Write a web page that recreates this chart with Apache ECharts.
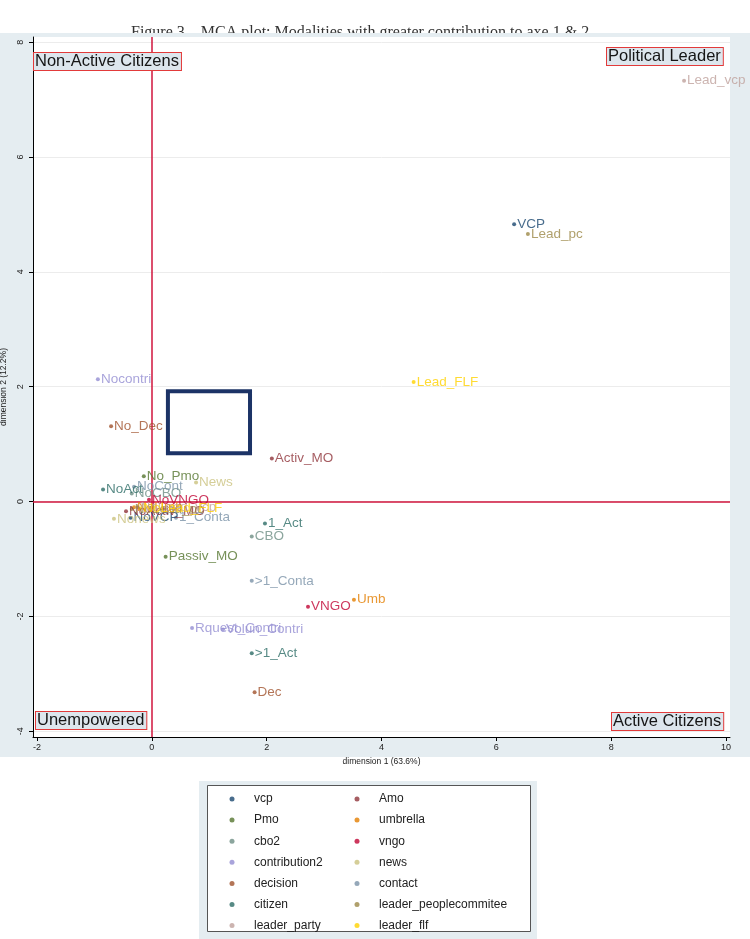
<!DOCTYPE html>
<html><head><meta charset="utf-8">
<script src="https://cdn.jsdelivr.net/npm/echarts@6/dist/echarts.min.js"></script>
<style>html,body{margin:0;padding:0;background:#fff}#c{width:750px;height:939px}</style>
</head><body><div id="c"></div><script>
const groups = ['vcp','Amo','Pmo','umbrella','cbo2','vngo','contribution2','news','decision','contact','citizen','leader_peoplecommitee','leader_party','leader_flf'];
const legendCol1 = ['vcp','Pmo','cbo2','contribution2','decision','citizen','leader_party'];
const legendCol2 = ['Amo','umbrella','vngo','news','contact','leader_peoplecommitee','leader_flf'];
const pointLabels = ['Lead_vcp','VCP','Lead_pc','Lead_FLF','Nocontri','No_Dec','Activ_MO','No_Pmo','NoAct','NoCont','NoCBO','NoVNGO','NoActiv_MO','NoUmb','NoLead_FLF','NoLead_pc','NoLead_vcp','Nonews','NoVCP','1_Conta','News','1_Act','CBO','Passiv_MO','>1_Conta','Umb','VNGO','Rquest_Contri','Volun_Contri','>1_Act','Dec'];
const pointGroups = ['leader_party','vcp','leader_peoplecommitee','leader_flf','contribution2','decision','Amo','Pmo','citizen','contact','cbo2','vngo','Amo','umbrella','leader_flf','leader_peoplecommitee','leader_party','news','vcp','contact','news','citizen','cbo2','Pmo','contact','umbrella','vngo','contribution2','contribution2','citizen','decision'];
const dim1 = [9.27,6.31,6.55,4.56,-0.94,-0.71,2.09,-0.14,-0.85,-0.31,-0.35,-0.05,-0.45,-0.31,-0.2,-0.35,-0.25,-0.66,-0.37,0.42,0.77,1.97,1.74,0.24,1.74,3.52,2.72,0.70,1.24,1.74,1.79];
const dim2 = [7.33,4.83,4.66,2.08,2.13,1.31,0.75,0.44,0.21,0.26,0.14,0.03,-0.17,-0.10,-0.12,-0.13,-0.10,-0.30,-0.28,-0.28,0.33,-0.38,-0.61,-0.96,-1.38,-1.71,-1.83,-2.20,-2.23,-2.64,-3.32];
const xTicks = [-2,0,2,4,6,8,10];
const yTicks = [-4,-2,0,2,4,6,8];
const highlightBox = [[0.28,1.92],[1.71,0.84]];
const quadrantLabels = ['Non-Active Citizens','Political Leader','Unempowered','Active Citizens'];
const titleText = 'Figure 3 \u2013 MCA plot: Modalities with greater contribution to axe 1 & 2';
const xName = 'dimension 1 (63.6%)';
const yName = 'dimension 2 (12.2%)';

const palette = ['#1a476f','#90353b','#55752f','#e37e00','#6e8e84','#c10534','#938dd2','#cac27e','#a0522d','#7b92a8','#2d6d66','#9c8847','#bfa19c','#ffd200'];
const panel = '#e5edf1';
const refColor = '#d0143c';
const font = 'Liberation Sans, Arial, sans-serif';

const chart = echarts.init(document.getElementById('c'));
const series = groups.map((g, gi) => {
  const data = [];
  pointLabels.forEach((l, i) => { if (pointGroups[i] === g) data.push([dim1[i], dim2[i], l]); });
  return {
    name: g, type: 'scatter', data, symbol: 'circle', symbolSize: 4,
    itemStyle: {color: palette[gi]},
    label: {show: true, position: 'right', distance: 1, formatter: p => p.value[2],
      color: palette[gi], fontFamily: font, fontSize: 13.5},
    labelLayout: {hideOverlap: false},
    z: 20
  };
});
series.push({
  type: 'scatter', data: [], silent: true, color: refColor, z: 10,
  markLine: {silent: true, symbol: 'none', label: {show: false}, animation: false,
    lineStyle: {color: refColor, width: 1.5, type: 'solid', opacity: 1},
    emphasis: {disabled: true},
    data: [
      [{xAxis: 0, yAxis: 'min'}, {xAxis: 0, yAxis: 'max'}],
      [{xAxis: 'min', yAxis: 0}, {xAxis: 'max', yAxis: 0}]
    ]}
});
series.push({
  type: 'scatter', data: [], silent: true, z: 10,
  markArea: {silent: true, itemStyle: {color: 'rgba(0,0,0,0)', borderColor: '#1c3366', borderWidth: 4},
    data: [[{coord: highlightBox[0]}, {coord: highlightBox[1]}]]}
});

const qStyle = (txt, x, y) => ({
  type: 'text', left: x, top: y, z: 50,
  style: {text: txt, font: '16.5px ' + font, fill: '#151515', backgroundColor: '#dde6ed',
    borderColor: '#e23a3a', borderWidth: 1, padding: [0, 2, 0, 1]}
});

const legendBase = {orient: 'vertical', icon: 'circle', itemWidth: 5, itemHeight: 5, itemGap: 7.1, height: 200, width: 170,
  textStyle: {fontFamily: font, fontSize: 12, color: '#222', lineHeight: 14, padding: [0, 0, 0, 14.5]}};

chart.setOption({
  animation: false,
  backgroundColor: '#fff',
  grid: {left: 33, right: 20, top: 37, bottom: 202, show: true, backgroundColor: '#fff', borderWidth: 0, borderColor: 'rgba(0,0,0,0)',
    containLabel: false, outerBoundsMode: 'none'},
  xAxis: {type: 'value', min: -2.07, max: 10.07, name: xName, nameLocation: 'middle', nameGap: 12,
    nameTextStyle: {fontFamily: font, fontSize: 8.5, color: '#222'},
    axisLine: {show: true, onZero: false, lineStyle: {color: '#000'}},
    axisTick: {show: true, length: 4, lineStyle: {color: '#000'}, customValues: xTicks},
    axisLabel: {fontFamily: font, fontSize: 9, color: '#222', margin: 6, customValues: xTicks},
    splitLine: {show: false}},
  yAxis: {type: 'value', min: -4.1, max: 8.09, name: yName, nameLocation: 'middle', nameGap: 19,
    nameTextStyle: {fontFamily: font, fontSize: 8.5, color: '#222'},
    axisLine: {show: true, onZero: false, lineStyle: {color: '#000'}},
    axisTick: {show: true, length: 4, lineStyle: {color: '#000'}, customValues: yTicks},
    axisLabel: {fontFamily: font, fontSize: 9, color: '#222', rotate: 90, margin: 8, customValues: yTicks},
    splitLine: {show: true, lineStyle: {color: '#ececec', width: 1}}},
  legend: [
    Object.assign({left: 224.5, top: 787, data: legendCol1}, legendBase),
    Object.assign({left: 349.5, top: 787, data: legendCol2}, legendBase)
  ],
  graphic: [
    {type: 'text', left: 131, top: 25, z: -101, silent: true,
      style: {text: titleText, font: '16px Liberation Serif, Times New Roman, serif', fill: '#333'}},
    {type: 'rect', left: 0, top: 33, z: -100, silent: true, shape: {width: 750, height: 724}, style: {fill: panel}},
    {type: 'rect', left: 199, top: 781, z: -100, silent: true, shape: {width: 338, height: 158}, style: {fill: panel}},
    {type: 'rect', left: 207, top: 785, z: -99, silent: true, shape: {width: 323, height: 146}, style: {fill: '#fff', stroke: '#555', lineWidth: 1}},
    qStyle(quadrantLabels[0], 33, 52),
    qStyle(quadrantLabels[1], 606, 47),
    qStyle(quadrantLabels[2], 35, 711),
    qStyle(quadrantLabels[3], 611, 712)
  ],
  series
});
</script></body></html>
